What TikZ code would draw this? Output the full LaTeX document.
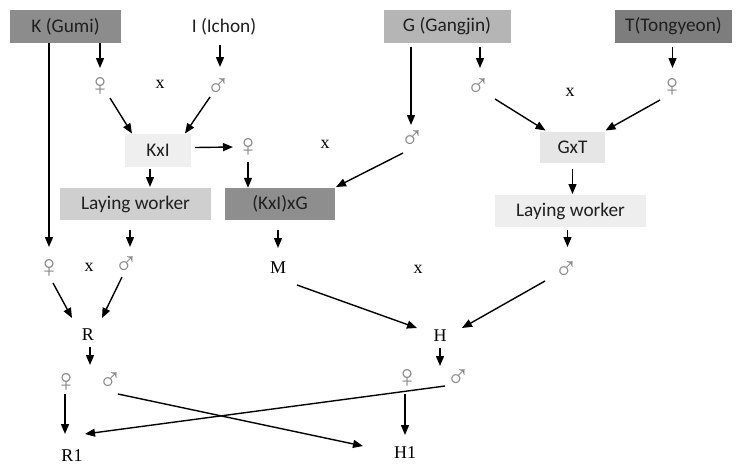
\documentclass[tikz,border=0pt]{standalone}
\usepackage{fontspec}
\setmainfont{Liberation Serif}
\newfontfamily\boxfont{Carlito}
\usetikzlibrary{arrows.meta}
\definecolor{cK}{HTML}{8C8C8C}
\definecolor{cG}{HTML}{B5B5B5}
\definecolor{cT}{HTML}{7D7D7D}
\definecolor{cKxI}{HTML}{EFEFEF}
\definecolor{cLWa}{HTML}{CFCFCF}
\definecolor{cKxIxG}{HTML}{8E8E8E}
\definecolor{cGxT}{HTML}{E6E6E6}
\definecolor{cLWb}{HTML}{EEEEEE}
\definecolor{symgray}{HTML}{8A8A8A}
\begin{document}
\begin{tikzpicture}[x=1pt,y=-1pt,
  box/.style={draw=none, inner sep=0pt, font=\boxfont\fontsize{19.3}{21}\selectfont, text=black!88},
  sym/.style={inner sep=0pt, font=\fontsize{32}{34}\selectfont, text=symgray},
  lbl/.style={inner sep=1pt, font=\fontsize{18}{20}\selectfont, text=black},
  arr/.style={-{Triangle[length=10pt,width=8pt]}, line width=1.4pt},
  ln/.style={line width=1.4pt}]
\useasboundingbox (0,0) rectangle (747,467);
% boxes
\node[box, fill=cK, minimum width=111pt, minimum height=33pt] (K) at (65.5,26.5) {K (Gumi)};
\node[box] (I) at (224,27) {I (Ichon)};
\node[box, fill=cG, minimum width=127pt, minimum height=33pt] (G) at (447,26.5) {G (Gangjin)};
\node[box, fill=cT, minimum width=117pt, minimum height=33pt] (T) at (673.5,26.5) {T(Tongyeon)};
\node[box, fill=cKxI, minimum width=66pt, minimum height=33pt] (KxI) at (158,150.5) {KxI};
\node[box, fill=cLWa, minimum width=151pt, minimum height=32pt] (LW1) at (135.5,204) {Laying worker};
\node[box, fill=cKxIxG, minimum width=110pt, minimum height=32pt] (KxIxG) at (280,204) {(KxI)xG};
\node[box, fill=cGxT, minimum width=65pt, minimum height=31pt] (GxT) at (572.5,147.5) {GxT};
\node[box, fill=cLWb, minimum width=151pt, minimum height=32pt] (LW2) at (570.5,211) {Laying worker};
% symbols and labels
\node[sym] (f1) at (100,86) {♀};
\node[lbl] (x1) at (160,84) {x};
\node[sym] (m1) at (218,87) {♂};
\node[sym] (f2) at (248,147) {♀};
\node[lbl] (x2) at (325,144) {x};
\node[sym] (m2) at (412,139) {♂};
\node[sym] (m3) at (478,87) {♂};
\node[lbl] (x3) at (570,92) {x};
\node[sym] (f3) at (672,87) {♀};
\node[sym] (f4) at (49,268) {♀};
\node[lbl] (x4) at (89,267) {x};
\node[sym] (m4) at (126,265) {♂};
\node[lbl] (M) at (278,268) {M};
\node[lbl] (x5) at (418,269) {x};
\node[sym] (m5) at (566,270) {♂};
\node[lbl] (R) at (88,335) {R};
\node[lbl] (H) at (440,336) {H};
\node[sym] (f6) at (66,382) {♀};
\node[sym] (m6) at (110,381) {♂};
\node[sym] (f7) at (407,378) {♀};
\node[sym] (m7) at (458,378) {♂};
\node[lbl] (R1) at (72,456) {R1};
\node[lbl] (H1) at (405,453) {H1};
\coordinate (rdn) at (90,365);
\coordinate (hdn) at (440,366);
% arrows
\draw[arr] (K.south -| f1) -- ([shift={(0,-18)}]f1.center);
\draw[arr] ([shift={(-4,18)}]I.center) -- ([shift={(2,-20)}]m1.center);
\draw[arr] ([shift={(10,12)}]f1.center) -- ([shift={(-26,-17)}]KxI.center);
\draw[arr] ([shift={(-8,10)}]m1.center) -- ([shift={(27,-17)}]KxI.center);
\draw[arr] ([shift={(37,-3)}]KxI.center) -- ([shift={(-15,0)}]f2.center);
\draw[arr] ([shift={(0,15)}]f2.center) -- (f2 |- KxIxG.north);
\draw[arr] ([shift={(-8,18)}]KxI.center) -- ([shift={(14.5,-17)}]LW1.center);
\draw[arr] (K.south -| f4) -- ([shift={(0,-21)}]f4.center);
\draw[arr] ([shift={(-5.5,26)}]LW1.center) -- ([shift={(4,-18)}]m4.center);
\draw[arr] ([shift={(-2,26)}]KxIxG.center) -- ([shift={(0,-20)}]M.center);
\draw[arr] ([shift={(-36,20)}]G.center) -- ([shift={(-1,-14)}]m2.center);
\draw[arr] ([shift={(-9,14)}]m2.center) -- ([shift={(56,-17)}]KxIxG.center);
\draw[arr] ([shift={(33,20)}]G.center) -- ([shift={(2,-19)}]m3.center);
\draw[arr] ([shift={(-1,20)}]T.center) -- ([shift={(0.5,-19)}]f3.center);
\draw[arr] ([shift={(17,12)}]m3.center) -- ([shift={(-27,-17)}]GxT.center);
\draw[arr] ([shift={(-12,13)}]f3.center) -- ([shift={(33,-17)}]GxT.center);
\draw[arr] ([shift={(0,21)}]GxT.center) -- ([shift={(2,-17)}]LW2.center);
\draw[arr] ([shift={(-3,19)}]LW2.center) -- ([shift={(1.5,-23)}]m5.center);
\draw[arr] ([shift={(4,15)}]f4.center) -- ([shift={(-16,-17)}]R.center);
\draw[arr] ([shift={(-4,12)}]m4.center) -- ([shift={(14,-17)}]R.center);
\draw[arr] ([shift={(19,17)}]M.center) -- ([shift={(-23,-8)}]H.center);
\draw[arr] ([shift={(-21,11)}]m5.center) -- ([shift={(22,-8)}]H.center);
\draw[arr] ([shift={(2,12)}]R.center) -- (rdn);
\draw[arr] ([shift={(0,12)}]H.center) -- (hdn);
\draw[arr] ([shift={(-1,12)}]f6.center) -- ([shift={(-7,-22)}]R1.center);
\draw[arr] ([shift={(8,13)}]m6.center) -- ([shift={(-42,-7)}]H1.center);
\draw[arr] ([shift={(-2,16)}]f7.center) -- ([shift={(0,-18)}]H1.center);
\draw[arr] ([shift={(-13,8)}]m7.center) -- ([shift={(13,-22)}]R1.center);
\end{tikzpicture}
\end{document}
